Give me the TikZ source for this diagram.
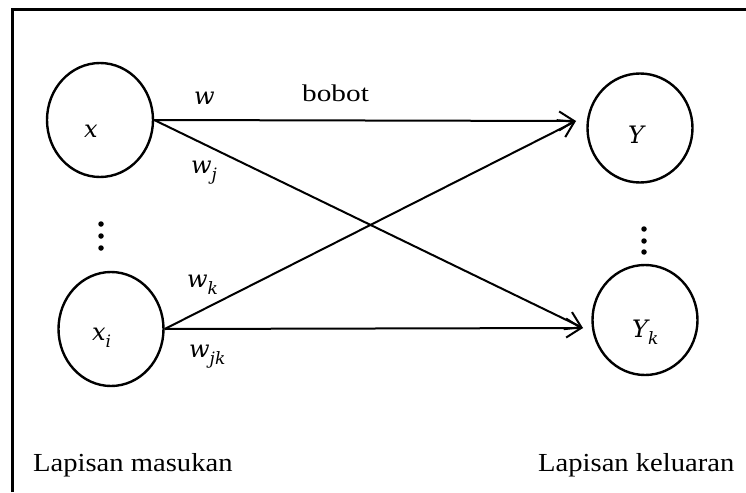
\documentclass[tikz,border=0pt]{standalone}
\usepackage{fontspec}
\setmainfont{Liberation Serif}
\newfontfamily\mfont{DejaVu Serif}
\usetikzlibrary{shapes.geometric,arrows.meta}
\newcommand{\mv}[1]{{\mfont\itshape #1}}
\newcommand{\msub}[1]{\raisebox{-0.3em}{\fontsize{17}{18}\selectfont\mfont\itshape #1}}
\begin{document}
\begin{tikzpicture}[x=1pt,y=-1pt,
  neuron/.style={draw,ellipse,line width=2.4pt,inner sep=0pt},
  conn/.style={line width=2pt,-{Straight Barb[length=15pt,width=19pt,line width=2pt]}},
  lbl/.style={inner sep=0pt,anchor=base west,font=\fontsize{24}{28}\selectfont},
  txt/.style={inner sep=0pt,anchor=base west,font=\fontsize{26}{30}\selectfont},
  dot/.style={circle,fill,inner sep=0pt,minimum size=5.5pt}]
\useasboundingbox (0,0) rectangle (746,492);
\fill[white] (0,0) rectangle (746,492);
% frame
\coordinate (fbl) at (12.5,492);
\coordinate (ftl) at (12.5,9.5);
\coordinate (ftr) at (746,9.5);
\draw[line width=2.2pt] (fbl) -- (ftl) -- (ftr);
% neurons
\node[neuron,minimum width=106pt,minimum height=114pt] (x) at (100,120) {};
\node[neuron,minimum width=105pt,minimum height=114pt] (xi) at (111,329) {};
\node[neuron,minimum width=105pt,minimum height=109pt] (Y) at (640,128) {};
\node[neuron,minimum width=105pt,minimum height=110pt] (Yk) at (645,320) {};
% node labels
\node[lbl] (lx) at (84,137) {\mv{x}};
\node[lbl] (lxi) at (92,340) {\mv{x}\msub{i}};
\node[lbl] (lY) at (628,143) {\mv{Y}};
\node[lbl] (lYk) at (632,337) {\mv{Y}\msub{k}};
% dots
\node[dot] (d1) at (101,224) {};
\node[dot] (d2) at (101,236) {};
\node[dot] (d3) at (101,248) {};
\node[dot] (e1) at (644,229) {};
\node[dot] (e2) at (644,241) {};
\node[dot] (e3) at (644,252) {};
% arrow tips
\coordinate (tY) at (576,121);
\coordinate (tYk) at (583,328);
\draw[conn] (x.east) -- (tY);
\draw[conn] (x.east) -- (tYk);
\draw[conn] (xi.east) -- (tY);
\draw[conn] (xi.east) -- (tYk);
% weight labels
\node[lbl] (w) at (194,105) {\mv{w}};
\node[txt] (bobot) at (302,102) {\scalebox{1.22}[1]{\fontsize{24}{26}\selectfont bobot}};
\node[lbl] (wj) at (191,173) {\mv{w}\msub{j}};
\node[lbl] (wk) at (187,287) {\mv{w}\msub{k}};
\node[lbl] (wjk) at (189,357) {\mv{w}\msub{jk}};
% layer labels
\node[txt] (lin) at (33,471) {\scalebox{1.1}[1]{Lapisan masukan}};
\node[txt] (lout) at (538,471) {\scalebox{1.1}[1]{Lapisan keluaran}};
\end{tikzpicture}
\end{document}
